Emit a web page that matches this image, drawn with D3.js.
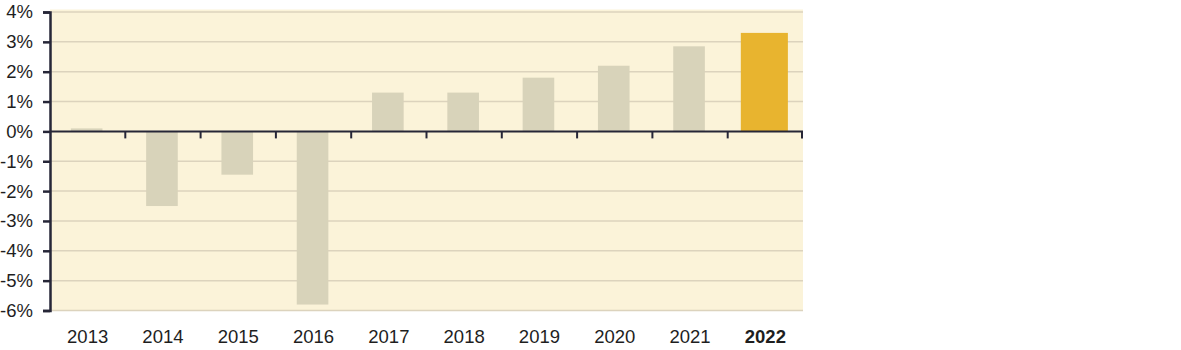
<!DOCTYPE html>
<html>
<head>
<meta charset="utf-8">
<script src="https://cdn.jsdelivr.net/npm/d3@7"></script>
<style>
  html, body { margin: 0; padding: 0; background: #ffffff; }
  svg text { font-family: "Liberation Sans", Arial, sans-serif; fill: #1e1e1e; }
</style>
</head>
<body>
<svg id="chart" width="1181" height="350"></svg>
<script>
// Annual change, percent
const years = ["2013", "2014", "2015", "2016", "2017", "2018", "2019", "2020", "2021", "2022"];
const changes = [0.1, -2.5, -1.45, -5.8, 1.3, 1.3, 1.8, 2.2, 2.85, 3.3];
const yTicks = [4, 3, 2, 1, 0, -1, -2, -3, -4, -5, -6];
const highlightYear = "2022";

const svg = d3.select("#chart");
const plotLeft = 50, plotRight = 803, plotTop = 12, plotBottom = 310.5;

const x = d3.scaleBand().domain(years).range([plotLeft, plotRight]).padding(0);
const y = d3.scaleLinear().domain([-6, 4]).range([plotBottom, plotTop]);

// plot background
svg.append("rect")
  .attr("x", plotLeft).attr("y", plotTop - 2.5)
  .attr("width", plotRight - plotLeft).attr("height", plotBottom - plotTop + 3)
  .attr("fill", "#fbf3d9");

// horizontal gridlines
svg.append("g").selectAll("line")
  .data(yTicks.filter(t => t !== 0))
  .join("line")
  .attr("x1", plotLeft).attr("x2", plotRight)
  .attr("y1", d => y(d)).attr("y2", d => y(d))
  .attr("stroke", "#dcd3bd").attr("stroke-width", 1.5);

// bars
const data = years.map((yr, i) => ({ year: yr, value: changes[i] }));
const barWidth = d => x.bandwidth() * (d.year === highlightYear ? 0.625 : 0.42);
svg.append("g").selectAll("rect")
  .data(data)
  .join("rect")
  .attr("x", d => x(d.year) + (x.bandwidth() - barWidth(d)) / 2 - 1)
  .attr("width", barWidth)
  .attr("y", d => y(Math.max(0, d.value)))
  .attr("height", d => Math.abs(y(d.value) - y(0)))
  .attr("fill", d => d.year === highlightYear ? "#e8b42f" : "#d8d3ba");

// y axis
const yAxis = d3.axisLeft(y)
  .tickValues(yTicks)
  .tickFormat(d => d + "%")
  .tickSize(7)
  .tickPadding(10);
const gy = svg.append("g")
  .attr("transform", `translate(${plotLeft},0)`)
  .call(yAxis);
gy.select(".domain").attr("stroke", "#262637").attr("stroke-width", 2.5);
gy.selectAll(".tick line").attr("stroke", "#262637").attr("stroke-width", 2.5);
gy.selectAll(".tick text")
  .attr("font-size", 18.5)
  .attr("font-family", "'Liberation Sans', Arial, sans-serif")
  .attr("fill", "#1e1e1e");

// zero baseline with category separators
const zeroY = y(0);
svg.append("line")
  .attr("x1", plotLeft).attr("x2", plotRight)
  .attr("y1", zeroY).attr("y2", zeroY)
  .attr("stroke", "#262637").attr("stroke-width", 2);
svg.append("g").selectAll("line")
  .data(years.slice(1).map(yr => x(yr)).concat([plotRight - 1]))
  .join("line")
  .attr("x1", d => d).attr("x2", d => d)
  .attr("y1", zeroY).attr("y2", zeroY + 7)
  .attr("stroke", "#262637").attr("stroke-width", 2);

// category labels
svg.append("g").selectAll("text")
  .data(years)
  .join("text")
  .attr("x", d => x(d) + x.bandwidth() / 2)
  .attr("y", 343)
  .attr("text-anchor", "middle")
  .attr("font-size", 18.5)
  .attr("font-weight", d => d === highlightYear ? "bold" : "normal")
  .text(d => d);
</script>
</body>
</html>
